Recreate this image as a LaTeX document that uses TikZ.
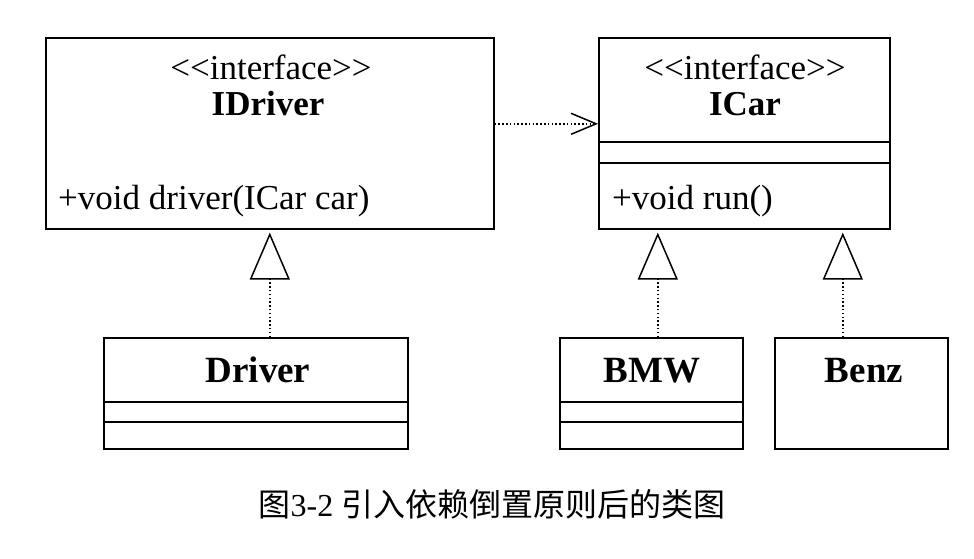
\documentclass[tikz,border=0pt]{standalone}
\usepackage{fontspec}
\setmainfont{Liberation Serif}
\newfontfamily\cjk{Noto Sans CJK SC}
\usetikzlibrary{arrows.meta}
\begin{document}
\begin{tikzpicture}[x=1pt,y=-1pt,
  umlbox/.style={draw, line width=1.6pt, rectangle, inner sep=0pt, anchor=north west},
  txt/.style={inner sep=0pt, anchor=base, font=\fontsize{35}{40}\selectfont},
  btxt/.style={txt, font=\fontsize{35}{40}\selectfont\bfseries},
  cbtxt/.style={txt, font=\fontsize{37}{42}\selectfont\bfseries},
  ltxt/.style={txt, anchor=base west},
  sepline/.style={line width=1.6pt},
  realize/.style={line width=1.5pt, dash pattern=on 1.5pt off 2.3pt, -{Triangle[open, length=47pt, width=40pt, line width=1.5pt]}, shorten >=3pt},
  depend/.style={line width=1.5pt, dash pattern=on 1.5pt off 2.3pt, -{Straight Barb[length=25pt, width=21pt, line width=1.5pt]}}
]
\useasboundingbox[fill=white] (0,0) rectangle (974,558);
% boxes
\node[umlbox, minimum width=448pt, minimum height=191pt] (idriver) at (45,37) {};
\node[umlbox, minimum width=291pt, minimum height=191pt] (icar) at (598,37) {};
\node[umlbox, minimum width=304pt, minimum height=111pt] (driver) at (103,337) {};
\node[umlbox, minimum width=183pt, minimum height=111pt] (bmw) at (559,337) {};
\node[umlbox, minimum width=173pt, minimum height=111pt] (benz) at (774,337) {};
% compartments
\draw[sepline] (icar.west |- 0,142) -- (icar.east |- 0,142);
\draw[sepline] (icar.west |- 0,163) -- (icar.east |- 0,163);
\draw[sepline] (driver.west |- 0,402) -- (driver.east |- 0,402);
\draw[sepline] (driver.west |- 0,422) -- (driver.east |- 0,422);
\draw[sepline] (bmw.west |- 0,402) -- (bmw.east |- 0,402);
\draw[sepline] (bmw.west |- 0,422) -- (bmw.east |- 0,422);
% texts
\node[txt] (idst) at (271,79) {<\kern0pt<interface>\kern0pt>};
\node[btxt] (idname) at (268,115) {IDriver};
\node[ltxt] (idop) at (58,209) {+void driver(ICar car)};
\node[txt] (icst) at (745,79) {<\kern0pt<interface>\kern0pt>};
\node[btxt] (icname) at (745,115) {ICar};
\node[ltxt] (icop) at (612,209) {+void run()};
\node[cbtxt] (drname) at (258,382) {Driver};
\node[cbtxt] (bmwname) at (652,382) {BMW};
\node[cbtxt] (benzname) at (864,382) {Benz};
% connectors
\draw[realize] (idriver.south |- driver.north) -- (idriver.south);
\draw[realize] ([xshift=6.5pt]bmw.north) -- ([xshift=6.5pt]bmw.north |- icar.south);
\draw[realize] ([xshift=-18.5pt]benz.north) -- ([xshift=-18.5pt]benz.north |- icar.south);
\draw[depend] ([yshift=9.5pt]idriver.east) -- ([yshift=9.5pt]icar.west);
% caption
\node[inner sep=0pt, anchor=base, font=\fontsize{32}{37}\selectfont] (caption) at (492,516) {{\cjk 图}3-2 {\cjk 引入依赖倒置原则后的类图}};
\end{tikzpicture}
\end{document}
